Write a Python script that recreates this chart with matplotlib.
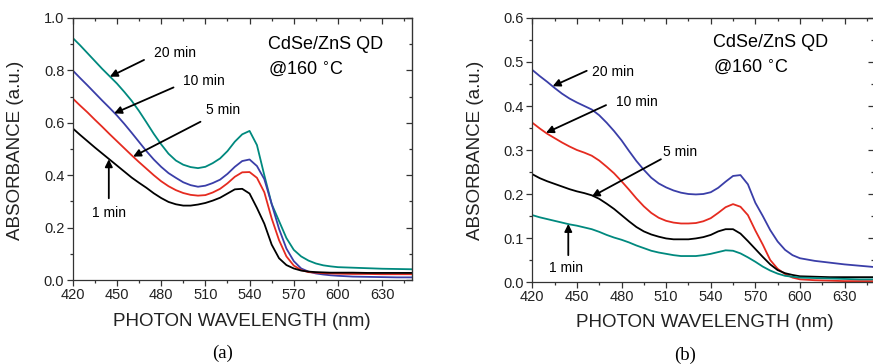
import matplotlib
matplotlib.use("Agg")
import matplotlib.pyplot as plt
from matplotlib.ticker import MultipleLocator, FixedLocator

plt.rcParams['font.family'] = ['Liberation Sans', 'DejaVu Sans']

# Wavelength grid shared by every spectrum (nm)
wavelength = [420, 425, 430, 435, 440, 445, 450, 455, 460, 465, 470, 475, 480, 485,
              490, 495, 500, 505, 510, 515, 520, 525, 530, 535, 540, 545, 550, 555,
              560, 565, 570, 575, 580, 585, 590, 595, 600, 610, 620, 630, 640, 650]

# ---------------- panel (a) absorbance ----------------
a_20min = [0.924, 0.896, 0.866, 0.836, 0.806, 0.778, 0.750, 0.718, 0.684, 0.645, 0.602,
           0.558, 0.518, 0.482, 0.456, 0.440, 0.431, 0.427, 0.432, 0.446, 0.464, 0.492,
           0.528, 0.556, 0.569, 0.515, 0.400, 0.290, 0.225, 0.160, 0.115, 0.090, 0.074,
           0.063, 0.056, 0.052, 0.049, 0.047, 0.045, 0.043, 0.042, 0.041]
a_10min = [0.800, 0.771, 0.743, 0.714, 0.685, 0.657, 0.628, 0.596, 0.562, 0.527, 0.492,
           0.460, 0.432, 0.408, 0.390, 0.373, 0.362, 0.356, 0.360, 0.370, 0.383, 0.405,
           0.432, 0.454, 0.460, 0.435, 0.385, 0.290, 0.195, 0.120, 0.072, 0.044, 0.032,
           0.025, 0.021, 0.018, 0.016, 0.013, 0.012, 0.011, 0.010, 0.010]
a_5min = [0.693, 0.666, 0.640, 0.612, 0.585, 0.557, 0.530, 0.503, 0.476, 0.450, 0.425,
          0.400, 0.377, 0.358, 0.343, 0.332, 0.325, 0.322, 0.324, 0.334, 0.348, 0.369,
          0.394, 0.411, 0.412, 0.390, 0.335, 0.235, 0.152, 0.090, 0.055, 0.038, 0.030,
          0.028, 0.026, 0.025, 0.024, 0.023, 0.023, 0.022, 0.022, 0.022]
a_1min = [0.579, 0.554, 0.530, 0.506, 0.483, 0.460, 0.437, 0.414, 0.391, 0.371, 0.352,
          0.331, 0.313, 0.298, 0.289, 0.284, 0.284, 0.288, 0.294, 0.303, 0.314, 0.330,
          0.346, 0.348, 0.330, 0.275, 0.215, 0.135, 0.083, 0.057, 0.044, 0.036, 0.032,
          0.030, 0.029, 0.028, 0.028, 0.028, 0.027, 0.027, 0.027, 0.027]

# ---------------- panel (b) absorbance ----------------
b_20min = [0.482, 0.468, 0.455, 0.441, 0.428, 0.417, 0.408, 0.400, 0.392, 0.379, 0.362,
           0.343, 0.322, 0.298, 0.275, 0.255, 0.237, 0.224, 0.215, 0.208, 0.203, 0.200,
           0.199, 0.200, 0.204, 0.214, 0.228, 0.241, 0.243, 0.222, 0.180, 0.150, 0.118,
           0.092, 0.073, 0.061, 0.054, 0.048, 0.044, 0.040, 0.037, 0.034]
b_10min = [0.362, 0.349, 0.337, 0.327, 0.317, 0.308, 0.300, 0.294, 0.287, 0.276, 0.262,
           0.247, 0.229, 0.210, 0.190, 0.172, 0.157, 0.146, 0.139, 0.135, 0.133, 0.133,
           0.134, 0.138, 0.145, 0.157, 0.170, 0.177, 0.171, 0.152, 0.117, 0.085, 0.050,
           0.030, 0.018, 0.010, 0.006, 0.004, 0.003, 0.002, 0.002, 0.002]
b_5min = [0.245, 0.236, 0.229, 0.223, 0.217, 0.211, 0.206, 0.202, 0.197, 0.189, 0.178,
          0.166, 0.152, 0.138, 0.125, 0.115, 0.108, 0.103, 0.099, 0.097, 0.097, 0.097,
          0.099, 0.102, 0.107, 0.115, 0.120, 0.120, 0.110, 0.093, 0.075, 0.057, 0.040,
          0.027, 0.020, 0.016, 0.013, 0.012, 0.011, 0.011, 0.011, 0.011]
b_1min = [0.152, 0.147, 0.143, 0.139, 0.135, 0.131, 0.128, 0.124, 0.120, 0.114, 0.107,
          0.101, 0.096, 0.090, 0.083, 0.077, 0.071, 0.067, 0.064, 0.061, 0.059, 0.059,
          0.059, 0.061, 0.064, 0.068, 0.072, 0.071, 0.065, 0.056, 0.046, 0.035, 0.026,
          0.019, 0.014, 0.012, 0.010, 0.009, 0.008, 0.007, 0.006, 0.006]

x_ticks = [420, 450, 480, 510, 540, 570, 600, 630]

TEAL = '#00897e'
BLUE = '#3a3ea8'
RED = '#e52b20'
BLACK = '#000000'

fig = plt.figure(figsize=(8.73, 3.64), dpi=100)
W, H = 873, 364


def px_axes(x0, x1, ytop, ybot):
    return fig.add_axes([x0 / W, 1 - ybot / H, (x1 - x0) / W, (ybot - ytop) / H])


def style_axes(ax, ymax, ymajor, yminor):
    ax.set_xlim(420, 650)
    ax.set_ylim(0, ymax)
    ax.xaxis.set_major_locator(FixedLocator(x_ticks))
    ax.xaxis.set_minor_locator(MultipleLocator(15))
    ax.yaxis.set_major_locator(MultipleLocator(ymajor))
    ax.yaxis.set_minor_locator(MultipleLocator(yminor))
    ax.yaxis.set_major_formatter(plt.FuncFormatter(lambda v, p: f"{v:.1f}"))
    ax.tick_params(which='both', direction='out', colors='#333333', labelcolor='#222222',
                   labelsize=10.5, width=0.9)
    ax.tick_params(which='major', length=4)
    ax.tick_params(which='minor', length=2.5)
    ax.tick_params(axis='x', pad=2)
    ax.tick_params(axis='y', pad=2)
    for s in ax.spines.values():
        s.set_color('#333333')
        s.set_linewidth(0.9)
    top = ax.secondary_xaxis('top')
    top.xaxis.set_major_locator(FixedLocator(x_ticks))
    top.xaxis.set_minor_locator(MultipleLocator(15))
    top.tick_params(which='both', direction='in', labeltop=False, colors='#333333', width=0.9)
    top.tick_params(which='major', length=4)
    top.tick_params(which='minor', length=2.5)
    right = ax.secondary_yaxis('right')
    right.yaxis.set_major_locator(MultipleLocator(ymajor))
    right.yaxis.set_minor_locator(MultipleLocator(yminor))
    right.tick_params(which='both', direction='in', labelright=False, colors='#333333', width=0.9)
    right.tick_params(which='major', length=4)
    right.tick_params(which='minor', length=2.5)


def arrow(ax, head, tail):
    ax.annotate('', xy=head, xytext=tail,
                arrowprops=dict(arrowstyle='-|>', color='black', lw=1.3,
                                mutation_scale=11, shrinkA=0, shrinkB=0))


LW = 1.3

# ---------------- panel (a) ----------------
ax1 = px_axes(72.7, 411.7, 18, 280)
ax1.plot(wavelength, a_20min, color=TEAL, lw=LW)
ax1.plot(wavelength, a_10min, color=BLUE, lw=LW)
ax1.plot(wavelength, a_5min, color=RED, lw=LW)
ax1.plot(wavelength, a_1min, color=BLACK, lw=LW)
style_axes(ax1, 1.0, 0.2, 0.1)

arrow(ax1, (445.2, 0.776), (468.4, 0.840))
ax1.text(489.1, 0.865, '20 min', fontsize=10, ha='center', va='center')
arrow(ax1, (448.1, 0.636), (488.4, 0.735))
ax1.text(508.7, 0.760, '10 min', fontsize=10, ha='center', va='center')
arrow(ax1, (461.0, 0.471), (506.7, 0.604))
ax1.text(521.8, 0.649, '5 min', fontsize=10, ha='center', va='center')
arrow(ax1, (444.5, 0.461), (444.5, 0.312))
ax1.text(444.5, 0.257, '1 min', fontsize=10, ha='center', va='center')

ax1.text(0.575, 0.897, 'CdSe/ZnS QD', transform=ax1.transAxes, fontsize=13,
         ha='left', va='center')
ax1.text(0.575, 0.805, '@160 $^{\\circ}$C', transform=ax1.transAxes, fontsize=13,
         ha='left', va='center')

fig.text(15.5 / W, 1 - 150 / H, 'ABSORBANCE (a.u.)', rotation=90, fontsize=13.5,
         ha='center', va='center', color='#222222')
fig.text(242 / W, 1 - 321.7 / H, 'PHOTON WAVELENGTH (nm)', fontsize=13.5,
         ha='center', va='center', color='#222222')
fig.text(223 / W, 1 - 353.5 / H, '(a)', fontsize=13.5, family='Liberation Serif',
         ha='center', va='center')

# ---------------- panel (b) ----------------
ax2 = px_axes(532.3, 874.3, 18, 282)
ax2.plot(wavelength, b_20min, color=BLUE, lw=LW)
ax2.plot(wavelength, b_10min, color=RED, lw=LW)
ax2.plot(wavelength, b_5min, color=BLACK, lw=LW)
ax2.plot(wavelength, b_1min, color=TEAL, lw=LW)
style_axes(ax2, 0.6, 0.1, 0.05)

arrow(ax2, (433.7, 0.445), (456.6, 0.480))
ax2.text(474.5, 0.478, '20 min', fontsize=10, ha='center', va='center')
arrow(ax2, (429.2, 0.339), (469.6, 0.402))
ax2.text(490.2, 0.408, '10 min', fontsize=10, ha='center', va='center')
arrow(ax2, (460.0, 0.194), (506.5, 0.279))
ax2.text(519.3, 0.295, '5 min', fontsize=10, ha='center', va='center')
arrow(ax2, (444.2, 0.132), (444.2, 0.061))
ax2.text(442.7, 0.0325, '1 min', fontsize=10, ha='center', va='center')

ax2.text(0.527, 0.906, 'CdSe/ZnS QD', transform=ax2.transAxes, fontsize=13,
         ha='left', va='center')
ax2.text(0.527, 0.816, '@160 $^{\\circ}$C', transform=ax2.transAxes, fontsize=13,
         ha='left', va='center')

fig.text(475.7 / W, 1 - 150 / H, 'ABSORBANCE (a.u.)', rotation=90, fontsize=13.5,
         ha='center', va='center', color='#222222')
fig.text(705 / W, 1 - 322.3 / H, 'PHOTON WAVELENGTH (nm)', fontsize=13.5,
         ha='center', va='center', color='#222222')
fig.text(685 / W, 1 - 355 / H, '(b)', fontsize=13.5, family='Liberation Serif',
         ha='center', va='center')

fig.savefig('out.png', dpi=100)
